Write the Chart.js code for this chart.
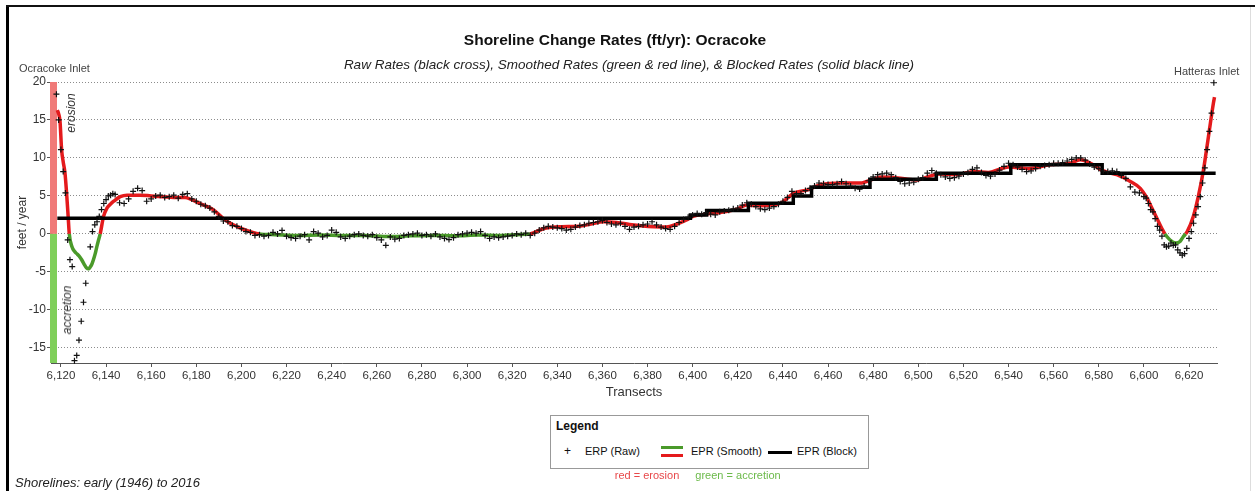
<!DOCTYPE html>
<html>
<head>
<meta charset="utf-8">
<script src="https://cdn.jsdelivr.net/npm/chart.js@4.4.0/dist/chart.umd.min.js"></script>
<style>
  body { margin: 0; background: #fff; font-family: "Liberation Sans", Arial, sans-serif; }
  #wrap { position: relative; width: 1255px; height: 491px; overflow: hidden; }
  #frameL { position: absolute; left: 6px; top: 6px; width: 3px; height: 485px; background: #000; }
  #frameT { position: absolute; left: 6px; top: 5px; width: 1249px; height: 2px; background: #111; }
  #frameR { position: absolute; left: 1250px; top: 7px; width: 1px; height: 484px; background: #ddd; }
  .txt { position: absolute; white-space: nowrap; color: #333; }
  .c { transform: translate(-50%, -50%); }
  .rot { transform: translate(-50%, -50%) rotate(-90deg); }
  #legend { position: absolute; left: 550px; top: 415px; width: 317px; height: 52px; border: 1px solid #999; background: #fff; }
</style>
</head>
<body>
<div id="wrap">
  <canvas id="graphe" width="1255" height="491"></canvas>
  <div id="frameL"></div><div id="frameT"></div><div id="frameR"></div>

  <div class="txt c" style="left:615px; top:40px; font-size:15.5px; font-weight:bold; color:#111;">Shoreline Change Rates (ft/yr): Ocracoke</div>
  <div class="txt c" style="left:629px; top:64px; font-size:13.5px; font-style:italic; color:#222;">Raw Rates (black cross), Smoothed Rates (green &amp; red line), &amp; Blocked Rates (solid black line)</div>
  <div class="txt" style="left:19px; top:62px; font-size:11px; color:#444;">Ocracoke Inlet</div>
  <div class="txt" style="left:1174px; top:65px; font-size:11px; color:#444;">Hatteras Inlet</div>
  <div class="txt rot" style="left:71px; top:113px; font-size:12px; font-style:italic; color:#333;">erosion</div>
  <div class="txt rot" style="left:67px; top:310px; font-size:12px; font-style:italic; color:#333;">accretion</div>

  <div id="legend">
    <div class="txt" style="left:5px; top:3px; font-size:12px; font-weight:bold; color:#111;">Legend</div>
    <div class="txt" style="left:13px; top:28px; font-size:12px; color:#111;">+</div>
    <div class="txt" style="left:34px; top:29px; font-size:11px; color:#111;">ERP (Raw)</div>
    <div style="position:absolute; left:110px; top:30px; width:22px; height:3px; background:#4a9a2a;"></div>
    <div style="position:absolute; left:110px; top:38px; width:22px; height:3px; background:#e41a1c;"></div>
    <div class="txt" style="left:140px; top:29px; font-size:11px; color:#111;">EPR (Smooth)</div>
    <div style="position:absolute; left:217px; top:35px; width:24px; height:3px; background:#000;"></div>
    <div class="txt" style="left:246px; top:29px; font-size:11px; color:#111;">EPR (Block)</div>
  </div>
  <div class="txt c" style="left:647px; top:475px; font-size:11px; color:#e8484a;">red = erosion</div>
  <div class="txt c" style="left:738px; top:475px; font-size:11px; color:#6cba4a;">green = accretion</div>
  <div class="txt" style="left:15px; top:475px; font-size:13px; font-style:italic; color:#222;">Shorelines: early (1946) to 2016</div>
</div>

<script>
// Donnees
const yTicks = [-15, -10, -5, 0, 5, 10, 15, 20];

const rawTransects = [6118, 6119, 6120, 6121, 6122, 6123, 6124, 6125, 6126, 6127, 6128, 6129, 6130, 6131,
  6133, 6134, 6135, 6136, 6137, 6138, 6139, 6140, 6141, 6142, 6143,
  6144, 6146, 6148, 6150, 6152, 6154, 6156, 6158, 6160, 6162, 6164, 6166, 6168, 6170, 6172, 6174, 6176, 6178,
  6180, 6182, 6184, 6186, 6188, 6190, 6192, 6194, 6196, 6198, 6200, 6202, 6204, 6206, 6208, 6210, 6212, 6214,
  6216, 6218, 6220, 6222, 6224, 6226, 6228, 6230, 6232, 6234, 6236, 6238, 6240, 6242, 6244, 6246, 6248, 6250,
  6252, 6254, 6256, 6258, 6260, 6262, 6264, 6266, 6268, 6270, 6272, 6274, 6276, 6278, 6280, 6282, 6284, 6286,
  6288, 6290, 6292, 6294, 6296, 6298, 6300, 6302, 6304, 6306, 6308, 6310, 6312, 6314, 6316, 6318, 6320, 6322,
  6324, 6326, 6328, 6330, 6332, 6334, 6336, 6338, 6340, 6342, 6344, 6346, 6348, 6350, 6352, 6354, 6356, 6358,
  6360, 6362, 6364, 6366, 6368, 6370, 6372, 6374, 6376, 6378, 6380, 6382, 6384, 6386, 6388, 6390, 6392, 6394,
  6396, 6398, 6400, 6402, 6404, 6406, 6408, 6410, 6412, 6414, 6416, 6418, 6420, 6422, 6424, 6426, 6428, 6430,
  6432, 6434, 6436, 6438, 6440, 6442, 6444, 6446, 6448, 6450, 6452, 6454, 6456, 6458, 6460, 6462, 6464, 6466,
  6468, 6470, 6472, 6474, 6476, 6478, 6480, 6482, 6484, 6486, 6488, 6490, 6492, 6494, 6496, 6498, 6500, 6502,
  6504, 6506, 6508, 6510, 6512, 6514, 6516, 6518, 6520, 6522, 6524, 6526, 6528, 6530, 6532, 6534, 6536, 6538,
  6540, 6542, 6544, 6546, 6548, 6550, 6552, 6554, 6556, 6558, 6560, 6562, 6564, 6566, 6568, 6570, 6572, 6574,
  6576, 6578, 6580, 6582, 6584, 6586, 6588, 6590, 6592, 6594, 6596, 6598, 6600,
  6601, 6602, 6603, 6604, 6605, 6606, 6607, 6608, 6609, 6610, 6611, 6612, 6613, 6614, 6615, 6616, 6617, 6618,
  6619, 6620, 6621, 6622, 6623, 6624, 6625, 6626, 6627, 6628, 6629, 6630, 6631];

const rawRates = [18.4, 15.0, 11.1, 8.2, 5.4, -0.8, -3.4, -4.3, -16.7, -16.0, -14.0, -11.5, -9.0, -6.5,
  -1.7, 0.3, 1.2, 1.6, 2.3, 3.2, 4.0, 4.5, 5.0, 5.1, 5.3,
  5.2, 4.1, 4.0, 4.6, 5.6, 6.0, 5.7, 4.3, 4.6, 5.0, 5.1, 4.8, 4.9, 5.1, 4.7, 5.2, 5.3, 4.6,
  4.3, 3.9, 3.7, 3.4, 2.9, 2.3, 1.7, 1.6, 1.1, 1.0, 0.7, 0.3, 0.2, -0.2, -0.1, -0.3, -0.2, 0.2,
  0.0, 0.45, -0.3, -0.5, -0.6, -0.3, -0.1, -0.8, 0.3, 0.1, -0.4, -0.2, 0.5, 0.2, -0.4, -0.6, -0.3, -0.1,
  0.0, -0.2, -0.3, -0.1, -0.5, -0.8, -1.5, -0.4, -0.7, -0.6, -0.2, -0.1, 0.0, 0.1, -0.2, -0.1, -0.3, 0.0,
  -0.4, -0.6, -0.75, -0.5, -0.1, 0.0, 0.1, 0.2, 0.1, 0.3, -0.2, -0.6, -0.4, -0.5, -0.4, -0.3, -0.2, 0.0,
  -0.1, 0.1, -0.2, 0.1, 0.5, 0.8, 1.0, 0.9, 0.8, 0.7, 0.5, 0.6, 0.9, 1.1, 1.2, 1.4, 1.5, 1.6,
  1.75, 1.5, 1.3, 1.2, 1.4, 1.0, 0.6, 0.9, 1.0, 1.2, 1.3, 1.6, 1.2, 0.9, 0.7, 0.6, 1.0, 1.5,
  1.9, 2.2, 2.5, 2.7, 2.6, 2.8, 2.6, 2.5, 2.9, 3.0, 3.1, 3.3, 3.4, 3.8, 4.1, 3.9, 3.6, 3.3,
  3.2, 3.4, 3.6, 3.9, 4.3, 4.8, 5.6, 5.3, 5.3, 5.7, 6.0, 6.3, 6.7, 6.6, 6.5, 6.5, 6.6, 6.9,
  6.6, 6.3, 6.0, 5.9, 6.3, 7.0, 7.5, 7.8, 7.9, 8.0, 7.8, 7.4, 6.9, 6.6, 6.7, 6.8, 7.2, 7.4,
  8.0, 8.35, 8.0, 7.8, 7.5, 7.3, 7.4, 7.6, 7.9, 8.1, 8.5, 8.7, 8.1, 7.7, 7.6, 7.9, 8.4, 8.9,
  9.3, 9.1, 8.8, 8.5, 8.2, 8.3, 8.6, 8.9, 9.0, 9.1, 9.3, 9.3, 9.4, 9.6, 9.8, 10.0, 10.0, 9.7,
  9.2, 8.8, 8.6, 8.3, 8.2, 8.3, 8.2, 7.7, 7.3, 6.2, 5.5, 5.4, 4.9,
  4.7, 4.0, 3.2, 2.9, 2.0, 1.0, 0.5, -0.3, -1.45, -1.7, -1.6, -1.2, -1.5, -1.45, -2.1, -2.5, -2.8, -2.6,
  -1.9, -0.6, 0.3, 1.4, 2.5, 3.6, 4.9, 6.7, 8.7, 11.1, 13.5, 15.9, 19.9];

const smoothTransects = [6118.4, 6119.0, 6119.6, 6120.3, 6121.0, 6121.8, 6122.5, 6123.2, 6123.7, 6124.9, 6126.0,
  6127.0, 6128.0, 6129.2, 6130.3, 6131.4, 6132.2, 6132.9, 6133.7, 6134.4, 6135.2, 6135.9, 6136.5, 6137.4,
  6138.9, 6140.4, 6141.9, 6143.4, 6146.3, 6149.3, 6155, 6160, 6165, 6170, 6175, 6178, 6181.6, 6187.5,
  6192.7, 6196.4, 6202.3, 6207.8, 6215, 6225, 6235, 6245, 6255, 6265, 6275, 6285, 6295, 6305, 6315, 6322,
  6327.9, 6334.5, 6341.9, 6349.3, 6355, 6360.4, 6366.3, 6372, 6378, 6383, 6388.4, 6393, 6397.3, 6400.2,
  6406, 6415, 6420, 6424, 6430, 6435, 6439, 6442, 6445, 6451, 6457, 6466, 6475, 6478, 6484, 6493, 6499,
  6505, 6509, 6516, 6525, 6531, 6540, 6549, 6558.4, 6567.3, 6571.7, 6577.6, 6580.6, 6585, 6588, 6594,
  6598.4, 6601.4, 6603.2, 6605.7, 6607.9, 6609.3, 6611.6, 6614.2, 6616, 6617.5, 6618.5, 6619.2, 6621.9,
  6624.1, 6626.4, 6628.6, 6630.8, 6631.3];

const smoothRates = [16.3, 15.8, 14.8, 11.1, 9.5, 8.0, 5.4, 2.3, 0, -1.7, -2.3,
  -2.6, -2.9, -3.4, -4.0, -4.5, -4.6, -4.4, -4.0, -3.4, -2.6, -1.7, -1.0, 0,
  2.3, 3.4, 3.9, 4.3, 4.9, 5.1, 5.1, 5.0, 4.9, 4.8, 4.8, 4.5, 4.0, 3.2,
  1.85, 1.2, 0.45, 0, -0.1, -0.2, -0.15, -0.2, -0.2, -0.35, -0.25, -0.2, -0.25, -0.15, -0.2, -0.1,
  0, 0.75, 0.95, 1.0, 1.3, 1.6, 1.5, 1.25, 1.05, 0.95, 0.9, 1.3, 1.85, 2.3,
  2.6, 2.95, 3.3, 3.8, 3.7, 3.8, 4.05, 4.7, 5.4, 5.8, 6.5, 6.7, 6.7, 7.0, 7.5, 7.3, 7.1,
  7.6, 7.9, 7.8, 8.2, 8.1, 8.8, 8.6, 9.1, 9.3, 9.75, 9.1, 8.5, 8.0, 7.8, 6.9,
  6.0, 4.7, 3.6, 2.1, 0.75, 0, -0.8, -1.2, -1.0, -0.35, 0, 0.3, 2.3,
  4.9, 8.4, 12.8, 17.2, 18.0];

const blockTransects = [6118.4, 6399, 6406.2, 6424.7, 6444.6, 6452.7, 6478.6, 6508, 6541, 6581.5, 6631.8];
const blockRates = [2.07, 2.5, 3.07, 4.05, 5.0, 6.15, 7.2, 8.0, 9.1, 8.0, 8.0];

const RED = "#e41a1c";
const GREEN = "#4a9a2a";

function points(xs, ys) {
  let out = [];
  for (let i = 0; i < xs.length; i++) out.push({x: xs[i], y: ys[i]});
  return out;
}

// bande rouge / verte a gauche
const bandePlugin = {
  id: "bande",
  beforeDatasetsDraw(chart) {
    const ctx = chart.ctx, y = chart.scales.y, a = chart.chartArea;
    const y0 = y.getPixelForValue(0);
    ctx.save();
    ctx.fillStyle = "#f07a78";
    ctx.fillRect(a.left - 1, y.getPixelForValue(20), 7, y0 - y.getPixelForValue(20));
    ctx.fillStyle = "#7fcf5a";
    ctx.fillRect(a.left - 1, y0, 7, a.bottom - y0);
    ctx.restore();
  }
};

Chart.defaults.font.family = '"Liberation Sans", Arial, sans-serif';
Chart.defaults.color = "#333";

new Chart(document.getElementById("graphe"), {
  type: "line",
  data: {
    datasets: [
      {
        label: "ERP (Raw)",
        data: points(rawTransects, rawRates),
        showLine: false,
        pointStyle: "cross",
        pointRadius: 3,
        pointBorderWidth: 1.2,
        pointBorderColor: "#111",
        order: 0,
        clip: 6
      },
      {
        label: "EPR (Block)",
        data: points(blockTransects, blockRates),
        borderColor: "#000",
        borderWidth: 3.5,
        pointRadius: 0,
        stepped: "before",
        order: 1
      },
      {
        label: "EPR (Smooth)",
        data: points(smoothTransects, smoothRates),
        borderColor: RED,
        borderWidth: 3.5,
        pointRadius: 0,
        cubicInterpolationMode: "monotone",
        segment: {
          borderColor: c => ((c.p0.parsed.y + c.p1.parsed.y) / 2 < 0 ? GREEN : RED)
        },
        order: 2
      }
    ]
  },
  options: {
    responsive: false,
    animation: false,
    layout: { padding: { left: 7, right: 38, top: 82, bottom: 88 } },
    plugins: { legend: { display: false }, tooltip: { enabled: false } },
    scales: {
      x: {
        type: "linear",
        min: 6115.6,
        max: 6632.4,
        afterFit: s => { s.height = 40; },
        ticks: {
          stepSize: 20,
          includeBounds: false,
          maxRotation: 0,
          autoSkip: false,
          padding: 2,
          font: { size: 11.5 },
          color: "#333",
          callback: v => v.toLocaleString("en-US")
        },
        grid: { drawOnChartArea: false, drawTicks: true, tickLength: 4, tickColor: "#555", tickBorderDash: [] },
        border: { color: "#555", width: 1 },
        title: { display: true, text: "Transects", font: { size: 13 }, color: "#333", padding: { top: 0, bottom: 3 } }
      },
      y: {
        min: -17,
        max: 20,
        afterFit: s => { s.width = 44; },
        afterBuildTicks: s => { s.ticks = yTicks.map(v => ({ value: v })); },
        ticks: { padding: 1, font: { size: 12 }, color: "#333" },
        grid: { color: "#8c8c8c", lineWidth: 1, tickLength: 4, tickColor: "#555", tickBorderDash: [] },
        border: { color: "#555", width: 1, dash: [1, 2] },
        title: { display: true, text: "feet / year", font: { size: 12 }, color: "#333", padding: { top: 8, bottom: 0 } }
      }
    }
  },
  plugins: [bandePlugin]
});
</script>
</body>
</html>
